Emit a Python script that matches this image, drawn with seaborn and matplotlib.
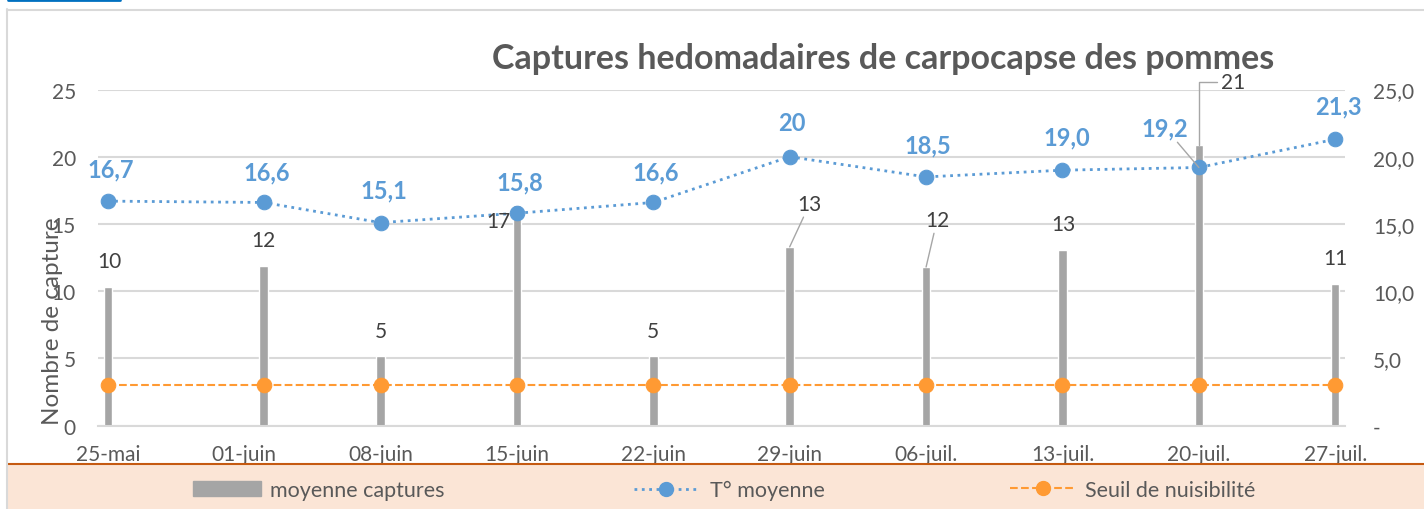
import matplotlib
matplotlib.use("Agg")
import matplotlib.pyplot as plt
import matplotlib.dates as mdates
from matplotlib.patches import Patch
from matplotlib.lines import Line2D
import seaborn as sns
import pandas as pd

sns.set_theme(style="white")
plt.rcParams["font.family"] = ["Lato", "DejaVu Sans"]

# Data
dates = ["2020-05-25", "2020-06-02", "2020-06-08", "2020-06-15", "2020-06-22",
         "2020-06-29", "2020-07-06", "2020-07-13", "2020-07-20", "2020-07-27"]
captures = [10.3, 11.9, 5.2, 16.4, 5.2, 13.3, 11.8, 13.1, 20.9, 10.5]
capture_labels = ["10", "12", "5", "17", "5", "13", "12", "13", "21", "11"]
temperature = [16.7, 16.6, 15.1, 15.8, 16.6, 20.0, 18.5, 19.0, 19.2, 21.3]
temp_labels = ["16,7", "16,6", "15,1", "15,8", "16,6", "20", "18,5", "19,0", "19,2", "21,3"]
seuil = [3, 3, 3, 3, 3, 3, 3, 3, 3, 3]
tick_dates = ["2020-05-25", "2020-06-01", "2020-06-08", "2020-06-15", "2020-06-22",
              "2020-06-29", "2020-07-06", "2020-07-13", "2020-07-20", "2020-07-27"]
tick_labels = ["25-mai", "01-juin", "08-juin", "15-juin", "22-juin",
               "29-juin", "06-juil.", "13-juil.", "20-juil.", "27-juil."]
left_ticks = [0, 5, 10, 15, 20, 25]
right_tick_labels = ["-", "5,0", "10,0", "15,0", "20,0", "25,0"]

BAR = "#A5A5A5"
BLUE = "#5B9BD5"
ORANGE = "#FF9A33"
TXT = "#595959"
GRID = "#D9D9D9"

x = mdates.date2num(pd.to_datetime(dates))
xt = mdates.date2num(pd.to_datetime(tick_dates))

W, H = 1424, 510
fig = plt.figure(figsize=(W / 100, H / 100), dpi=100)
ax = fig.add_axes([98 / W, 1 - 426.7 / H, (1345 - 98) / W, (426.7 - 90.5) / H])

# bars (captures)
sns.barplot(x=x, y=captures, native_scale=True, width=0.072, color=BAR,
            saturation=1, ax=ax, zorder=2)
# threshold line
sns.lineplot(x=x, y=seuil, ax=ax, color=ORANGE, linestyle="--", linewidth=1.5,
             marker="o", markersize=10.5, markeredgecolor=ORANGE, zorder=3)

ax.set_xlim(x[0] - 0.5, x[-1] + 0.5)
ax.set_ylim(0, 25)
ax.set_xticks(xt)
ax.set_xticklabels(tick_labels)
ax.set_yticks(left_ticks)
ax.set_yticklabels([str(v) for v in left_ticks])
ax.tick_params(axis="x", length=0, pad=13, labelsize=15, labelcolor=TXT)
ax.tick_params(axis="y", length=0, pad=16, labelsize=15, labelcolor=TXT)
ax.yaxis.grid(True, color=GRID, linewidth=1.5)
ax.set_axisbelow(True)
for s in ["top", "left", "right"]:
    ax.spines[s].set_visible(False)
ax.spines["bottom"].set_color(GRID)
ax.spines["bottom"].set_linewidth(1.5)
ax.set_xlabel("")
ax.set_ylabel("Nombre de capture", fontsize=17.5, color=TXT)
ax.yaxis.set_label_coords(-0.028, 0.315)

# temperature on secondary axis
ax2 = ax.twinx()
sns.lineplot(x=x, y=temperature, ax=ax2, color=BLUE, linestyle=":", linewidth=2,
             marker="o", markersize=10.5, markeredgecolor=BLUE, zorder=4)
ax2.set_ylim(0, 25)
ax2.set_yticks(left_ticks)
ax2.set_yticklabels(right_tick_labels)
ax2.tick_params(axis="y", length=0, pad=20, labelsize=15, labelcolor=TXT)
for s in ax2.spines.values():
    s.set_visible(False)
ax2.set_ylabel("")
ax2.set_xlim(x[0] - 0.5, x[-1] + 0.5)

# data labels (offsets in pixels)
bar_off = [(2, 26), (0, 26), (0, 25), (-19, -16), (0, 25),
           (20, 43), (11, 47), (1, 26), (34, 63), (0, 26)]
for i, (xi, yi, lab) in enumerate(zip(x, captures, capture_labels)):
    dx, dy = bar_off[i]
    arrow = None
    if i in (5, 6):
        arrow = dict(arrowstyle="-", color="#A6A6A6", lw=1, shrinkA=0, shrinkB=0)
    if i == 8:
        arrow = dict(arrowstyle="-", color="#A6A6A6", lw=1, shrinkA=0, shrinkB=0,
                     connectionstyle="angle,angleA=0,angleB=90,rad=0")
    ax2.annotate(lab, (xi, yi), xytext=(dx, dy), textcoords="offset pixels",
                 ha="center", va="center", fontsize=15, color="#404040",
                 arrowprops=arrow, zorder=5)

temp_off = [(3, 32), (3, 31), (3, 33), (3, 31), (2, 31),
            (2, 34), (2, 32), (4, 33), (-34, 40), (3, 33)]
for i, (xi, yi, lab) in enumerate(zip(x, temperature, temp_labels)):
    dx, dy = temp_off[i]
    arrow = None
    if i == 8:
        arrow = dict(arrowstyle="-", color="#A6A6A6", lw=1, shrinkA=0, shrinkB=0)
    ax2.annotate(lab, (xi, yi), xytext=(dx, dy), textcoords="offset pixels",
                 ha="center", va="center", fontsize=17, fontweight="bold",
                 color=BLUE, arrowprops=arrow, zorder=5)

# title
fig.text(883 / W, 1 - 59 / H, "Captures hedomadaires de carpocapse des pommes",
         ha="center", va="center", fontsize=24.5, fontweight="bold", color=TXT)

# legend band
band = fig.add_axes([8 / W, 0, 1, 45 / H])
band.set_facecolor("#FBE5D6")
band.set_xticks([])
band.set_yticks([])
for s in ["bottom", "left", "right"]:
    band.spines[s].set_visible(False)
band.spines["top"].set_color("#C55A11")
band.spines["top"].set_linewidth(1.5)

ly = 1 - 491 / H
items = [
    (Patch(facecolor=BAR, edgecolor=BAR), "moyenne captures", 193, 3.15, 0.42),
    (Line2D([], [], color=BLUE, linestyle=":", linewidth=2, marker="o",
            markersize=10, markeredgecolor=BLUE), "T° moyenne", 634, 2.95, 0.6),
    (Line2D([], [], color=ORANGE, linestyle="--", linewidth=1.5, marker="o",
            markersize=10, markeredgecolor=ORANGE), "Seuil de nuisibilité", 1010, 3.05, 0.42),
]
for h, lab, px, hl, hp in items:
    fig.legend([h], [lab], loc="center left", bbox_to_anchor=(px / W, ly),
               frameon=False, fontsize=15.5, borderpad=0, borderaxespad=0,
               handlelength=hl, handletextpad=hp, labelcolor=TXT)

# page frame pieces
fig.add_artist(Line2D([7 / W, 7 / W], [0, 1 - 10 / H], transform=fig.transFigure,
                      color=GRID, lw=1.5))
fig.add_artist(Line2D([7 / W, 1], [1 - 10.5 / H, 1 - 10.5 / H], transform=fig.transFigure,
                      color=GRID, lw=1.5))
fig.add_artist(Line2D([8 / W, 120 / W], [1 - 1 / H, 1 - 1 / H], transform=fig.transFigure,
                      color="#0070C0", lw=2))

fig.savefig("out.png", dpi=100)
